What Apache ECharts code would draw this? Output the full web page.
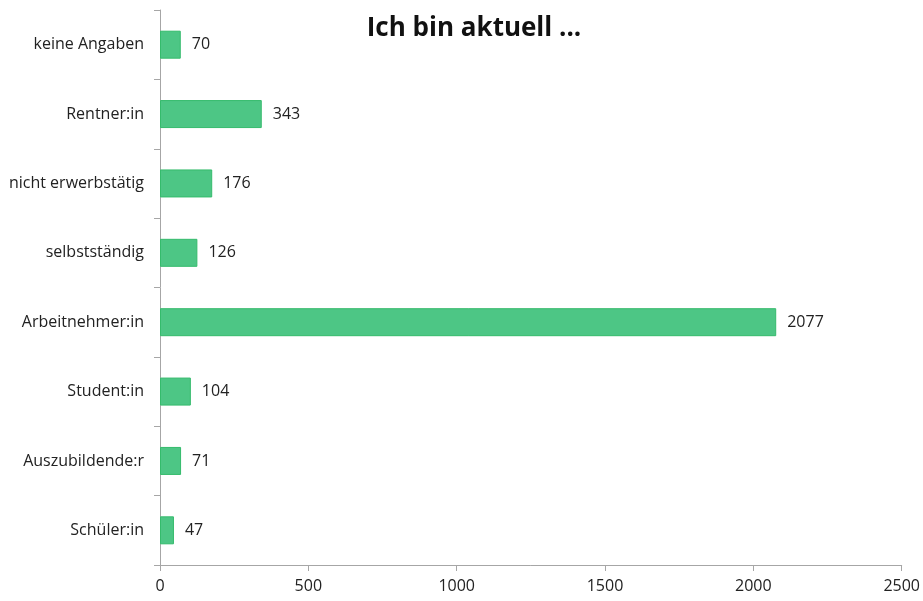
<!DOCTYPE html>
<html>
<head>
<meta charset="utf-8">
<script src="https://cdn.jsdelivr.net/npm/echarts@6/dist/echarts.min.js"></script>
<style>
  html, body { margin: 0; padding: 0; background: #fff; }
  #chart { width: 923px; height: 601px; }
</style>
</head>
<body>
<div id="chart"></div>
<script>
// Status categories, bottom to top
const categories = ['Schüler:in', 'Auszubildende:r', 'Student:in', 'Arbeitnehmer:in',
  'selbstständig', 'nicht erwerbstätig', 'Rentner:in', 'keine Angaben'];
const counts = [47, 71, 104, 2077, 126, 176, 343, 70];
const xTicks = [0, 500, 1000, 1500, 2000, 2500];

const fontFamily = '"Open Sans", "Noto Sans", sans-serif';
const chart = echarts.init(document.getElementById('chart'));
chart.setOption({
  animation: false,
  title: {
    text: 'Ich bin aktuell ...',
    left: 469,
    textAlign: 'center',
    top: 11,
    textStyle: { fontFamily, fontSize: 26, fontWeight: 'bold', color: '#111' }
  },
  grid: { left: 160, right: 20, top: 10, bottom: 36, containLabel: false },
  xAxis: {
    type: 'value',
    min: xTicks[0],
    max: xTicks[xTicks.length - 1],
    interval: 500,
    axisLine: { show: true, lineStyle: { color: '#a6a6a6', width: 1 } },
    axisTick: { show: true, length: 6, lineStyle: { color: '#a6a6a6' } },
    splitLine: { show: false },
    axisLabel: { fontFamily, fontSize: 16, color: '#222', margin: 13, formatter: v => String(v) }
  },
  yAxis: {
    type: 'category',
    data: categories,
    axisLine: { show: true, lineStyle: { color: '#a6a6a6', width: 1 } },
    axisTick: { show: true, length: 6, lineStyle: { color: '#a6a6a6' } },
    axisLabel: { fontFamily, fontSize: 16, color: '#222', margin: 16 }
  },
  series: [{
    type: 'bar',
    data: counts,
    barWidth: 28,
    itemStyle: { color: '#4dc685', borderColor: '#35bb6c', borderWidth: 1 },
    label: {
      show: true,
      position: 'right',
      distance: 11,
      fontFamily,
      fontSize: 16,
      color: '#222'
    }
  }]
});
</script>
</body>
</html>
